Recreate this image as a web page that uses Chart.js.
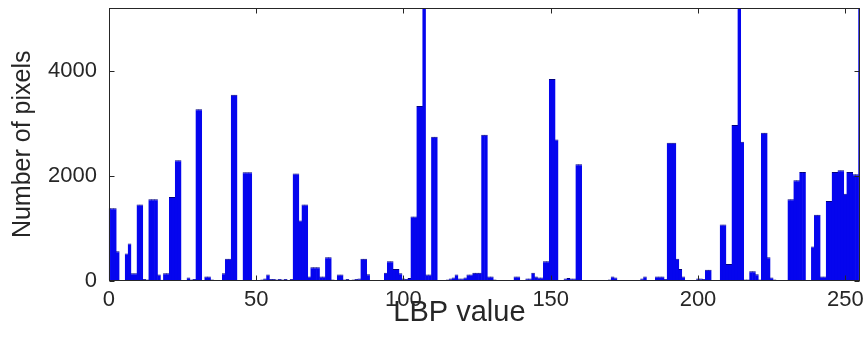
<!DOCTYPE html>
<html>
<head>
<meta charset="utf-8">
<script src="https://cdn.jsdelivr.net/npm/chart.js@4.4.0/dist/chart.umd.min.js"></script>
<style>
  html, body { margin: 0; padding: 0; background: #fff; }
  canvas { display: block; }
</style>
</head>
<body>
<canvas id="c" width="866" height="344"></canvas>
<script>
// LBP histogram, one count per code 0..255
var lbpCounts = [
  1380, 1380, 1380, 560, 0, 0, 516, 706, 140, 140, 1450, 1450, 30, 20, 1550, 1550,
  1550, 115, 15, 140, 140, 1595, 1595, 2297, 2297, 0, 10, 60, 20, 30, 3267, 3267,
  10, 77, 77, 20, 0, 10, 0, 140, 415, 415, 3547, 3547, 10, 0, 2067, 2067,
  2067, 0, 0, 10, 20, 40, 115, 30, 30, 20, 30, 20, 30, 10, 30, 2042,
  2042, 1148, 1450, 1450, 80, 255, 255, 255, 77, 77, 446, 446, 20, 10, 115, 115,
  20, 30, 10, 20, 30, 40, 415, 415, 120, 0, 0, 0, 0, 10, 150, 370,
  370, 223, 223, 140, 40, 30, 50, 1225, 1225, 3330, 3330, 5600, 115, 115, 2743, 2743,
  10, 0, 0, 20, 40, 60, 115, 40, 40, 60, 115, 115, 150, 150, 150, 2780,
  2780, 77, 77, 20, 0, 10, 0, 0, 10, 0, 77, 77, 0, 10, 40, 40,
  150, 80, 60, 60, 370, 370, 3847, 3847, 2693, 10, 0, 40, 50, 40, 40, 2220,
  2220, 0, 0, 10, 0, 0, 0, 10, 0, 0, 20, 77, 60, 0, 0, 0,
  0, 0, 0, 0, 0, 40, 77, 0, 0, 10, 77, 77, 77, 30, 2628, 2628,
  2628, 415, 223, 77, 0, 0, 0, 0, 40, 40, 30, 205, 205, 10, 0, 10,
  1072, 1072, 319, 319, 2967, 2967, 5600, 2647, 20, 20, 178, 178, 120, 20, 2820, 2820,
  446, 60, 20, 0, 0, 0, 0, 1550, 1550, 1914, 1914, 2073, 2073, 0, 0, 650,
  1257, 1257, 77, 77, 1520, 1520, 2073, 2073, 2105, 2105, 1659, 2073, 2073, 2029, 2029, 5600
];
var lbpCodes = lbpCounts.map(function (v, i) { return i; });

var xTicks = [0, 50, 100, 150, 200, 250];
var yTicks = [0, 2000, 4000];
var xLabel = "LBP value";
var yLabel = "Number of pixels";
var xLabelAt = 119;   // the label sits a bit left of the axis centre in the original

var axisColor = "#262626";
var barColor = "#0505ee";
var barEdge = "#000080";
var font = "'Liberation Sans', Arial, sans-serif";

// matlab-style closed box with inward tick marks, plus the x label
var boxPlugin = {
  id: "box",
  afterDatasetsDraw: function (chart) {
    var ctx = chart.ctx, a = chart.chartArea;
    var xs = chart.scales.x, ys = chart.scales.y;
    var l = Math.round(a.left) + 0.5, r = Math.round(a.right) - 0.5;
    var t = Math.round(a.top) + 0.5, b = Math.round(a.bottom) - 0.5;
    var len = 5;
    ctx.save();
    ctx.strokeStyle = axisColor;
    ctx.lineWidth = 1;
    ctx.strokeRect(l, t, r - l, b - t);
    ctx.beginPath();
    xTicks.forEach(function (v) {
      var px = Math.round(xs.getPixelForValue(v)) + 0.5;
      ctx.moveTo(px, b); ctx.lineTo(px, b - len);
      ctx.moveTo(px, t); ctx.lineTo(px, t + len);
    });
    yTicks.forEach(function (v) {
      var py = Math.round(ys.getPixelForValue(v)) + 0.5;
      ctx.moveTo(l, py); ctx.lineTo(l + len, py);
      ctx.moveTo(r, py); ctx.lineTo(r - len, py);
    });
    ctx.stroke();

    ctx.fillStyle = axisColor;
    ctx.font = "29px " + font;
    ctx.textAlign = "center";
    ctx.textBaseline = "alphabetic";
    ctx.fillText(xLabel, xs.getPixelForValue(xLabelAt), a.bottom + 40);
    ctx.restore();
  }
};

new Chart(document.getElementById("c"), {
  type: "bar",
  data: {
    datasets: [{
      data: lbpCodes.map(function (c, i) { return { x: c, y: lbpCounts[i] }; }),
      backgroundColor: barColor,
      borderColor: barEdge,
      borderWidth: { top: 1, left: 0, right: 0, bottom: 0 },
      barPercentage: 1.25,   // slight overlap, so neighbouring bins merge like the original
      categoryPercentage: 1,
      clip: 0
    }]
  },
  options: {
    responsive: false,
    animation: false,
    events: [],
    layout: { padding: { left: 8, right: 6, top: 8, bottom: 25 } },
    plugins: { legend: { display: false }, tooltip: { enabled: false } },
    scales: {
      x: {
        type: "linear",
        min: 0,
        max: 255,
        offset: false,
        afterBuildTicks: function (s) { s.ticks = xTicks.map(function (v) { return { value: v }; }); },
        afterFit: function (s) { s.paddingLeft = 0; s.paddingRight = 0; },
        grid: { display: false, drawTicks: false },
        border: { display: false },
        ticks: { color: axisColor, font: { family: font, size: 22 }, padding: 6, maxRotation: 0, autoSkip: false,
                 callback: function (v) { return String(v); } }
      },
      y: {
        min: 0,
        max: 5200,
        afterBuildTicks: function (s) { s.ticks = yTicks.map(function (v) { return { value: v }; }); },
        afterFit: function (s) { s.paddingTop = 0; s.paddingBottom = 0; },
        grid: { display: false, drawTicks: false },
        border: { display: false },
        ticks: { color: axisColor, font: { family: font, size: 22 }, padding: 12,
                 callback: function (v) { return String(v); } },
        title: { display: true, text: yLabel, color: axisColor, font: { family: font, size: 25 }, padding: { top: 0, bottom: -2 } }
      }
    }
  },
  plugins: [boxPlugin]
});
</script>
</body>
</html>
